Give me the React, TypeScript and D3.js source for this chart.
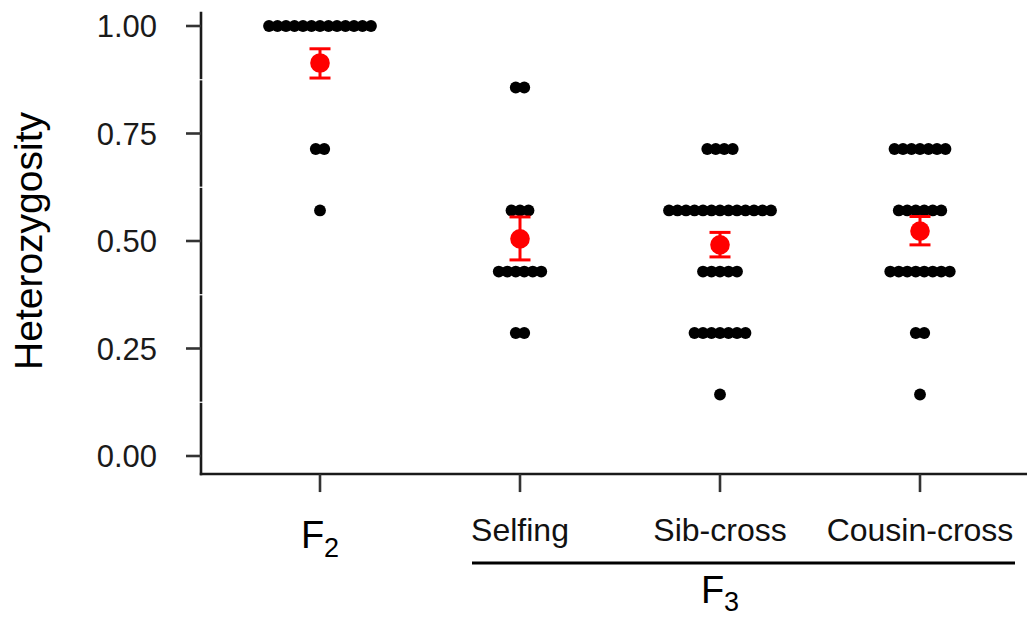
import * as d3 from "d3";
import { useEffect, useRef } from "react";

// groups on the x axis
const categories = ["F2", "Selfing", "Sib-cross", "Cousin-cross"];
// heterozygosity levels seen in the dot rows (7 loci)
const levels = [1.0, 0.857, 0.714, 0.571, 0.429, 0.286, 0.143];
// number of individuals per level, one array per group
const f2Counts = [13, 0, 2, 1, 0, 0, 0];
const selfingCounts = [0, 2, 0, 3, 6, 2, 0];
const sibCounts = [0, 0, 4, 13, 5, 7, 1];
const cousinCounts = [0, 0, 7, 6, 8, 2, 1];
// mean and error bar ends
const means = [0.914, 0.505, 0.491, 0.523];
const upper = [0.947, 0.556, 0.52, 0.557];
const lower = [0.879, 0.456, 0.463, 0.491];
const yTicks = [0, 0.25, 0.5, 0.75, 1];
const yMinor = [0.125, 0.375, 0.625, 0.875];

const FONT = "'Liberation Sans', Arial, Helvetica, sans-serif";

export default function App() {
  const ref = useRef<SVGSVGElement | null>(null);

  useEffect(() => {
    const svg = d3.select(ref.current);
    svg.selectAll("*").remove();

    const width = 1027;
    const height = 619;
    svg.attr("width", width).attr("height", height);

    const y = d3.scaleLinear().domain([0, 1]).range([456, 26]);
    const x = d3.scalePoint<string>().domain(categories).range([320, 920]);

    const axisLeft = 201;
    const axisBottom = y(-0.042);

    // axis lines
    svg
      .append("line")
      .attr("x1", axisLeft)
      .attr("x2", axisLeft)
      .attr("y1", y(1.033))
      .attr("y2", axisBottom + 1.2)
      .attr("stroke", "#1a1a1a")
      .attr("stroke-width", 2.6);
    svg
      .append("line")
      .attr("x1", axisLeft - 1.2)
      .attr("x2", width)
      .attr("y1", axisBottom)
      .attr("y2", axisBottom)
      .attr("stroke", "#1a1a1a")
      .attr("stroke-width", 2.6);

    // little white breaks in the y axis at minor grid values
    svg
      .selectAll("line.minor")
      .data(yMinor)
      .enter()
      .append("line")
      .attr("class", "minor")
      .attr("x1", axisLeft - 2)
      .attr("x2", axisLeft + 2)
      .attr("y1", (d) => y(d))
      .attr("y2", (d) => y(d))
      .attr("stroke", "white")
      .attr("stroke-width", 1.2);

    // y ticks
    svg
      .selectAll("line.ytick")
      .data(yTicks)
      .enter()
      .append("line")
      .attr("class", "ytick")
      .attr("x1", axisLeft - 15)
      .attr("x2", axisLeft)
      .attr("y1", (d) => y(d))
      .attr("y2", (d) => y(d))
      .attr("stroke", "#333")
      .attr("stroke-width", 2.6);

    svg
      .selectAll("text.ylab")
      .data(yTicks)
      .enter()
      .append("text")
      .attr("class", "ylab")
      .attr("x", axisLeft - 44)
      .attr("y", (d) => y(d) + 11)
      .attr("text-anchor", "end")
      .attr("font-family", FONT)
      .attr("font-size", 31)
      .attr("fill", "#1a1a1a")
      .text((d) => d3.format(".2f")(d));

    svg
      .append("text")
      .attr("transform", `translate(42, 241) rotate(-90)`)
      .attr("text-anchor", "middle")
      .attr("font-family", FONT)
      .attr("font-size", 39)
      .attr("fill", "#000")
      .text("Heterozygosity");

    // x ticks
    svg
      .selectAll("line.xtick")
      .data(categories)
      .enter()
      .append("line")
      .attr("class", "xtick")
      .attr("x1", (d) => x(d)!)
      .attr("x2", (d) => x(d)!)
      .attr("y1", axisBottom)
      .attr("y2", axisBottom + 18)
      .attr("stroke", "#333")
      .attr("stroke-width", 2.6);

    // F2 label with subscript
    const f2 = svg
      .append("text")
      .attr("x", x("F2")!)
      .attr("y", 548)
      .attr("text-anchor", "middle")
      .attr("font-family", FONT)
      .attr("fill", "#000");
    f2.append("tspan").attr("font-size", 38).text("F");
    f2.append("tspan").attr("font-size", 27).attr("dy", 9).text("2");

    svg
      .selectAll("text.xlab")
      .data(categories.slice(1))
      .enter()
      .append("text")
      .attr("class", "xlab")
      .attr("x", (d) => x(d)!)
      .attr("y", 541)
      .attr("text-anchor", "middle")
      .attr("font-family", FONT)
      .attr("font-size", 32)
      .attr("fill", "#111")
      .text((d) => d);

    // F3 bracket line + label
    svg
      .append("line")
      .attr("x1", 472)
      .attr("x2", 1015)
      .attr("y1", 563)
      .attr("y2", 563)
      .attr("stroke", "#000")
      .attr("stroke-width", 3.2);
    const f3 = svg
      .append("text")
      .attr("x", x("Sib-cross")!)
      .attr("y", 603)
      .attr("text-anchor", "middle")
      .attr("font-family", FONT)
      .attr("fill", "#000");
    f3.append("tspan").attr("font-size", 38).text("F");
    f3.append("tspan").attr("font-size", 27).attr("dy", 8).text("3");

    // dots
    const countsByGroup = [f2Counts, selfingCounts, sibCounts, cousinCounts];
    const spacing = 8.5;
    const dots: { cx: number; cy: number }[] = [];
    countsByGroup.forEach((counts, g) => {
      const cx0 = x(categories[g])!;
      counts.forEach((n, li) => {
        for (let i = 0; i < n; i++) {
          dots.push({
            cx: cx0 + (i - (n - 1) / 2) * spacing,
            cy: y(levels[li]),
          });
        }
      });
    });

    svg
      .selectAll("circle.dot")
      .data(dots)
      .enter()
      .append("circle")
      .attr("class", "dot")
      .attr("cx", (d) => d.cx)
      .attr("cy", (d) => d.cy)
      .attr("r", 5.9)
      .attr("fill", "#000");

    // mean +/- error
    const capW = 10.5;
    const summary = categories.map((c, i) => ({
      c,
      m: means[i],
      hi: upper[i],
      lo: lower[i],
    }));
    const eb = svg
      .selectAll("g.eb")
      .data(summary)
      .enter()
      .append("g")
      .attr("class", "eb")
      .attr("stroke", "#ff0000")
      .attr("stroke-width", 3);
    eb.append("line")
      .attr("x1", (d) => x(d.c)!)
      .attr("x2", (d) => x(d.c)!)
      .attr("y1", (d) => y(d.hi))
      .attr("y2", (d) => y(d.lo));
    eb.append("line")
      .attr("x1", (d) => x(d.c)! - capW)
      .attr("x2", (d) => x(d.c)! + capW)
      .attr("y1", (d) => y(d.hi))
      .attr("y2", (d) => y(d.hi));
    eb.append("line")
      .attr("x1", (d) => x(d.c)! - capW)
      .attr("x2", (d) => x(d.c)! + capW)
      .attr("y1", (d) => y(d.lo))
      .attr("y2", (d) => y(d.lo));
    svg
      .selectAll("circle.mean")
      .data(summary)
      .enter()
      .append("circle")
      .attr("class", "mean")
      .attr("cx", (d) => x(d.c)!)
      .attr("cy", (d) => y(d.m))
      .attr("r", 9.8)
      .attr("fill", "#ff0000");
  }, []);

  return (
    <svg
      ref={ref}
      style={{ position: "absolute", left: 0, top: 0, display: "block", background: "#fff" }}
    ></svg>
  );
}
